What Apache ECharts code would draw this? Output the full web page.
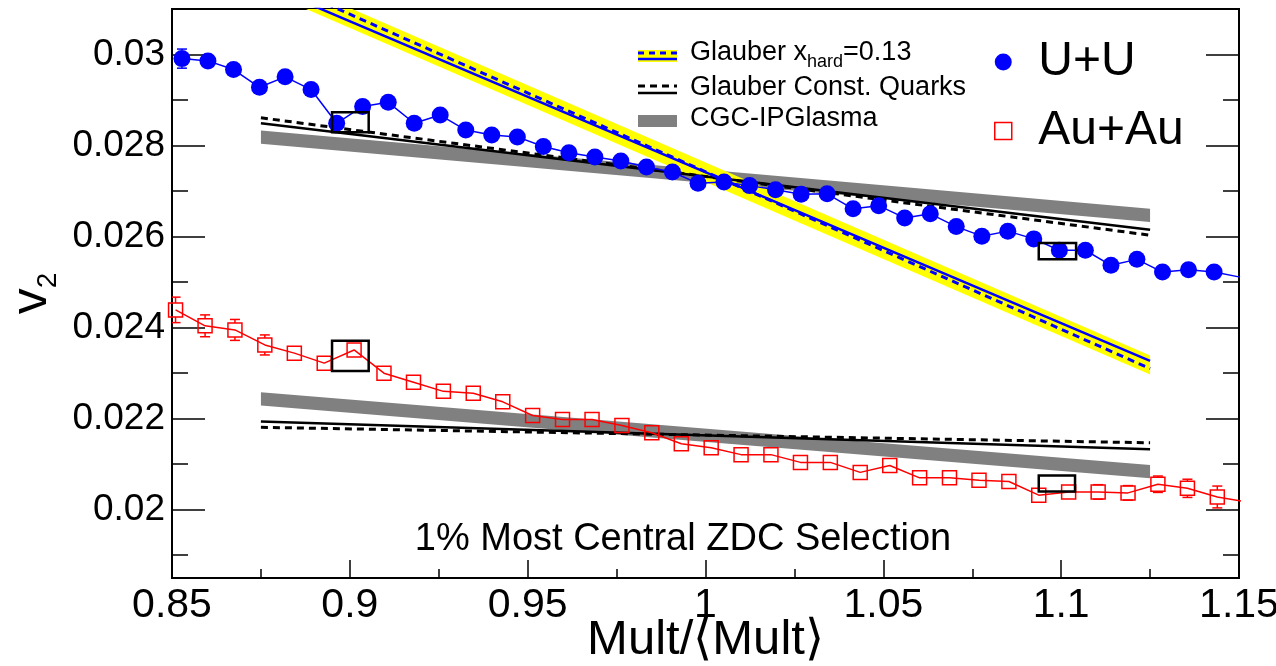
<!DOCTYPE html>
<html>
<head>
<meta charset="utf-8">
<script src="https://cdn.jsdelivr.net/npm/echarts@6/dist/echarts.min.js"></script>
<style>
  html, body { margin: 0; padding: 0; background: #fff; }
  #chart { width: 1276px; height: 666px; }
</style>
</head>
<body>
<div id="chart"></div>
<script>
// ---- measured v2 versus Mult/<Mult>, 1% most central ZDC selection ----
const uuMult = [0.8528, 0.8601, 0.8673, 0.8746, 0.8818, 0.8891, 0.8963, 0.9036, 0.9108, 0.9181,
  0.9254, 0.9326, 0.9399, 0.9471, 0.9544, 0.9616, 0.9689, 0.9762, 0.9834, 0.9907,
  0.9979, 1.0052, 1.0124, 1.0197, 1.0269, 1.0342, 1.0415, 1.0487, 1.0560, 1.0632,
  1.0705, 1.0777, 1.0850, 1.0923, 1.0995, 1.1068, 1.1140, 1.1213, 1.1285, 1.1358,
  1.1430, 1.1503];
const uuV2 = [0.02991, 0.02986, 0.02967, 0.02928, 0.02951, 0.02923, 0.02849, 0.02886, 0.02895, 0.02849,
  0.02867, 0.02834, 0.02823, 0.02819, 0.02798, 0.02784, 0.02775, 0.02766, 0.02753, 0.02742,
  0.02717, 0.02720, 0.02712, 0.02703, 0.02693, 0.02694, 0.02661, 0.02668, 0.02641, 0.02650,
  0.02622, 0.02601, 0.02612, 0.02595, 0.02570, 0.02570, 0.02537, 0.02550, 0.02522, 0.02527,
  0.02522, 0.02511];
const uuErr = [0.00021, 0.00016, 0.00015, 0.00014, 0.00013, 0.00012, 0.00012, 0.00012, 0.00011, 0.00011,
  0.00011, 0.00011, 0.00011, 0.00011, 0.00011, 0.00011, 0.00011, 0.00011, 0.00011, 0.00011,
  0.00011, 0.00011, 0.00011, 0.00011, 0.00011, 0.00011, 0.00011, 0.00011, 0.00011, 0.00011,
  0.00011, 0.00012, 0.00012, 0.00012, 0.00013, 0.00013, 0.00014, 0.00014, 0.00015, 0.00016,
  0.00017, 0.00018];

const auMult = [0.8510, 0.8593, 0.8677, 0.8761, 0.8844, 0.8928, 0.9012, 0.9096, 0.9179, 0.9263,
  0.9347, 0.9430, 0.9514, 0.9598, 0.9681, 0.9765, 0.9849, 0.9932, 1.0016, 1.0100,
  1.0184, 1.0267, 1.0351, 1.0435, 1.0518, 1.0602, 1.0686, 1.0769, 1.0853, 1.0937,
  1.1021, 1.1104, 1.1188, 1.1272, 1.1355, 1.1439, 1.1523];
const auV2 = [0.02439, 0.02404, 0.02395, 0.02362, 0.02344, 0.02322, 0.02351, 0.02300, 0.02280, 0.02260,
  0.02256, 0.02237, 0.02207, 0.02198, 0.02198, 0.02185, 0.02169, 0.02145, 0.02136, 0.02121,
  0.02121, 0.02104, 0.02104, 0.02082, 0.02097, 0.02070, 0.02070, 0.02065, 0.02062, 0.02032,
  0.02039, 0.02039, 0.02037, 0.02056, 0.02047, 0.02028, 0.02017];
const auErr = [0.00028, 0.00024, 0.00023, 0.00022, 0.00014, 0.00013, 0.00012, 0.00012, 0.00011, 0.00011,
  0.00011, 0.00011, 0.00011, 0.00011, 0.00011, 0.00011, 0.00011, 0.00011, 0.00011, 0.00011,
  0.00011, 0.00011, 0.00011, 0.00011, 0.00011, 0.00011, 0.00011, 0.00011, 0.00012, 0.00012,
  0.00012, 0.00016, 0.00016, 0.00018, 0.00020, 0.00024, 0.00025];

// ---- model calculations, given at the two ends of their range ----
const modelMult = [0.875, 1.125];
const uuHardSolid = [0.03156, 0.02327];
const uuHardDashed = [0.03175, 0.02310];
const uuHardBandLo = [0.03143, 0.02297];
const uuHardBandHi = [0.03187, 0.02339];
const uuQuarkSolid = [0.02849, 0.02615];
const uuQuarkDashed = [0.02861, 0.02603];
const uuCgcLo = [0.02804, 0.02632];
const uuCgcHi = [0.02833, 0.02661];
const auQuarkSolid = [0.02194, 0.02133];
const auQuarkDashed = [0.02181, 0.02147];
const auCgcLo = [0.02229, 0.02069];
const auCgcHi = [0.02258, 0.02098];

// ---- outlined reference bins ----
const boxMultLo = [0.8950, 1.0937, 0.8950, 1.0937];
const boxMultHi = [0.9053, 1.1042, 0.9053, 1.1039];
const boxV2Lo = [0.02829, 0.02550, 0.02305, 0.02040];
const boxV2Hi = [0.02873, 0.02586, 0.02371, 0.02075];

// ---- axis ticks ----
const xMin = 0.85, xMax = 1.15, xStep = 0.05;
const yMin = 0.0185, yMax = 0.031;
const yMajor = [0.02, 0.022, 0.024, 0.026, 0.028, 0.03];
const yMinor = [0.019, 0.021, 0.023, 0.025, 0.027, 0.029];

const FONT = 'Liberation Sans, Arial, Helvetica, sans-serif';
const BLUE = '#0000ff', RED = '#ff0000', YELLOW = '#ffff00', GREY = '#808080';
const UU_SIZE = 17, AU_SIZE = 14;

function bandSeries(lo, hi, color, z) {
  return {
    type: 'custom', z, silent: true, clip: true,
    data: [[modelMult[0], lo[0]]],
    encode: { x: 0, y: 1 },
    renderItem(params, api) {
      const upper = modelMult.map((m, i) => api.coord([m, hi[i]]));
      const lower = modelMult.map((m, i) => api.coord([m, lo[i]])).reverse();
      return { type: 'polygon', shape: { points: upper.concat(lower) }, style: { fill: color } };
    }
  };
}

function modelLine(vals, color, width, dashed, z) {
  return {
    type: 'line', z, silent: true, symbol: 'none', clip: true,
    data: modelMult.map((m, i) => [m, vals[i]]),
    lineStyle: { color, width, type: dashed ? [7, 5] : 'solid', cap: 'butt' }
  };
}

// error bars are drawn only where they stick out of the marker
function errorBars(xs, ys, es, color, markerSize, z) {
  const half = markerSize / 2;
  return {
    type: 'custom', z, silent: true, clip: true,
    data: xs.map((x, i) => [x, ys[i], es[i]]),
    encode: { x: 0, y: 1 },
    renderItem(params, api) {
      const x = api.value(0), y = api.value(1), e = api.value(2);
      const c = api.coord([x, y]);
      const a = api.coord([x, y + e]), b = api.coord([x, y - e]);
      const cap = 5;
      const st = { stroke: color, lineWidth: 1.5 };
      const kids = [];
      if (c[1] - a[1] > half) {
        kids.push({ type: 'line', shape: { x1: c[0], y1: c[1] - half, x2: a[0], y2: a[1] }, style: st });
        kids.push({ type: 'line', shape: { x1: a[0] - cap, y1: a[1], x2: a[0] + cap, y2: a[1] }, style: st });
      }
      if (b[1] - c[1] > half) {
        kids.push({ type: 'line', shape: { x1: c[0], y1: c[1] + half, x2: b[0], y2: b[1] }, style: st });
        kids.push({ type: 'line', shape: { x1: b[0] - cap, y1: b[1], x2: b[0] + cap, y2: b[1] }, style: st });
      }
      return { type: 'group', children: kids };
    }
  };
}

const boxSeries = {
  type: 'custom', z: 8, silent: true, clip: true,
  data: boxMultLo.map((x, i) => [x, boxV2Lo[i], boxMultHi[i], boxV2Hi[i]]),
  encode: { x: 0, y: 1 },
  renderItem(params, api) {
    const p = api.coord([api.value(0), api.value(3)]);
    const q = api.coord([api.value(2), api.value(1)]);
    return {
      type: 'rect',
      shape: { x: p[0], y: p[1], width: q[0] - p[0], height: q[1] - p[1] },
      style: { fill: 'none', stroke: '#000', lineWidth: 2.5 }
    };
  }
};

const yCommon = { type: 'value', min: yMin, max: yMax, splitLine: { show: false }, axisLine: { onZero: false } };

const option = {
  animation: false,
  backgroundColor: '#fff',
  grid: {
    left: 172, right: 37, top: 9, bottom: 88,
    outerBoundsMode: 'none', containLabel: false,
    show: true, borderColor: '#000', borderWidth: 2
  },
  xAxis: [{
    type: 'value', min: xMin, max: xMax, interval: xStep, position: 'bottom',
    axisLine: { show: true, onZero: false, lineStyle: { color: '#000', width: 2 } },
    axisTick: { show: true, inside: true, length: 18, lineStyle: { color: '#000', width: 1.5 } },
    minorTick: { show: true, splitNumber: 2, length: 9, lineStyle: { color: '#000', width: 1.5 } },
    splitLine: { show: false }, minorSplitLine: { show: false },
    axisLabel: {
      color: '#000', fontFamily: FONT, fontSize: 41, margin: 7,
      showMinLabel: true, showMaxLabel: true,
      formatter: v => String(+v.toFixed(2))
    },
    name: 'Mult/\u27E8Mult\u27E9', nameLocation: 'middle', nameGap: 38, nameMoveOverlap: false,
    nameTextStyle: { color: '#000', fontFamily: FONT, fontSize: 49 }
  }],
  yAxis: [
    Object.assign({}, yCommon, {
      position: 'left',
      axisLine: { show: true, onZero: false, lineStyle: { color: '#000', width: 2 } },
      axisTick: { show: true, inside: true, length: 33, customValues: yMajor, lineStyle: { color: '#000', width: 1.5 } },
      axisLabel: {
        color: '#000', fontFamily: FONT, fontSize: 37, margin: 7, customValues: yMajor,
        formatter: v => String(+(+v).toFixed(3))
      },
      name: '{v|v}{s|2}', nameLocation: 'middle', nameRotate: 90, nameGap: 110, nameMoveOverlap: false,
      nameTextStyle: {
        rich: {
          v: { fontFamily: FONT, fontSize: 52, color: '#000', lineHeight: 60 },
          s: { fontFamily: FONT, fontSize: 28, color: '#000', verticalAlign: 'bottom' }
        }
      }
    }),
    Object.assign({}, yCommon, {
      position: 'left',
      axisLine: { show: false },
      axisTick: { show: true, inside: true, length: 16, customValues: yMinor, lineStyle: { color: '#000', width: 1.5 } },
      axisLabel: { show: false }
    }),
    Object.assign({}, yCommon, {
      position: 'right',
      axisLine: { show: true, onZero: false, lineStyle: { color: '#000', width: 2 } },
      axisTick: { show: true, inside: true, length: 33, customValues: yMajor, lineStyle: { color: '#000', width: 1.5 } },
      axisLabel: { show: false }
    }),
    Object.assign({}, yCommon, {
      position: 'right',
      axisLine: { show: false },
      axisTick: { show: true, inside: true, length: 16, customValues: yMinor, lineStyle: { color: '#000', width: 1.5 } },
      axisLabel: { show: false }
    })
  ],
  legend: {
    left: 989, top: 33, orient: 'vertical',
    itemWidth: 50, itemHeight: 17, itemGap: 21,
    selectedMode: false,
    textStyle: { color: '#000', fontFamily: FONT, fontSize: 48, lineHeight: 48, padding: [0, 0, 0, 5] },
    data: [
      { name: 'U+U', icon: 'circle', itemStyle: { color: BLUE, borderWidth: 0 } },
      { name: 'Au+Au', icon: 'path://M0 0H10V10H0Z', itemStyle: { color: 'rgba(0,0,0,0)', borderColor: RED, borderWidth: 1.5 } }
    ]
  },
  graphic: [
    // model legend
    { type: 'rect', shape: { x: 638, y: 50, width: 39, height: 12 }, style: { fill: YELLOW }, z: 10 },
    { type: 'line', shape: { x1: 638, y1: 53, x2: 677, y2: 53 }, style: { stroke: BLUE, lineWidth: 3, lineDash: [6, 5] }, z: 11 },
    { type: 'line', shape: { x1: 638, y1: 59, x2: 677, y2: 59 }, style: { stroke: BLUE, lineWidth: 2.5 }, z: 11 },
    {
      type: 'text', x: 690, y: 53, z: 11,
      style: {
        text: '{n|Glauber x}{s|hard}{n|=0.13}', verticalAlign: 'middle', fill: '#000',
        rich: {
          n: { fontFamily: FONT, fontSize: 27, lineHeight: 37, fill: '#000' },
          s: { fontFamily: FONT, fontSize: 18, verticalAlign: 'bottom', fill: '#000' }
        }
      }
    },
    { type: 'line', shape: { x1: 638, y1: 86, x2: 677, y2: 86 }, style: { stroke: '#000', lineWidth: 3, lineDash: [7, 5] }, z: 11 },
    { type: 'line', shape: { x1: 638, y1: 93, x2: 677, y2: 93 }, style: { stroke: '#000', lineWidth: 2.5 }, z: 11 },
    { type: 'text', x: 690, y: 88, z: 11, style: { text: 'Glauber Const. Quarks', fontFamily: FONT, fontSize: 27, fill: '#000', verticalAlign: 'middle' } },
    { type: 'rect', shape: { x: 638, y: 115, width: 39, height: 12 }, style: { fill: GREY }, z: 10 },
    { type: 'text', x: 690, y: 119, z: 11, style: { text: 'CGC-IPGlasma', fontFamily: FONT, fontSize: 27, fill: '#000', verticalAlign: 'middle' } },
    // selection label
    { type: 'text', x: 683, y: 540, z: 11, style: { text: '1% Most Central ZDC Selection', fontFamily: FONT, fontSize: 38, fill: '#000', align: 'center', verticalAlign: 'middle' } }
  ],
  series: [
    bandSeries(uuCgcLo, uuCgcHi, GREY, 1),
    bandSeries(auCgcLo, auCgcHi, GREY, 1),
    bandSeries(uuHardBandLo, uuHardBandHi, YELLOW, 2),
    modelLine(uuQuarkSolid, '#000', 2.5, false, 3),
    modelLine(uuQuarkDashed, '#000', 3, true, 3),
    modelLine(auQuarkSolid, '#000', 2.5, false, 3),
    modelLine(auQuarkDashed, '#000', 3, true, 3),
    modelLine(uuHardSolid, BLUE, 2.5, false, 4),
    modelLine(uuHardDashed, BLUE, 3, true, 4),
    errorBars(uuMult, uuV2, uuErr, BLUE, UU_SIZE, 5),
    errorBars(auMult, auV2, auErr, RED, AU_SIZE, 5),
    {
      name: 'U+U', type: 'line', z: 6, clip: true,
      data: uuMult.map((m, i) => [m, uuV2[i]]),
      symbol: 'circle', symbolSize: UU_SIZE, showAllSymbol: true,
      lineStyle: { color: BLUE, width: 1.5 },
      itemStyle: { color: BLUE, borderWidth: 0 }
    },
    {
      name: 'Au+Au', type: 'line', z: 6, clip: true,
      data: auMult.map((m, i) => [m, auV2[i]]),
      symbol: 'rect', symbolSize: AU_SIZE, showAllSymbol: true,
      lineStyle: { color: RED, width: 1.5 },
      itemStyle: { color: 'rgba(0,0,0,0)', borderColor: RED, borderWidth: 1.5 }
    },
    boxSeries
  ]
};

const chart = echarts.init(document.getElementById('chart'), null, { renderer: 'canvas' });
chart.setOption(option);
</script>
</body>
</html>
